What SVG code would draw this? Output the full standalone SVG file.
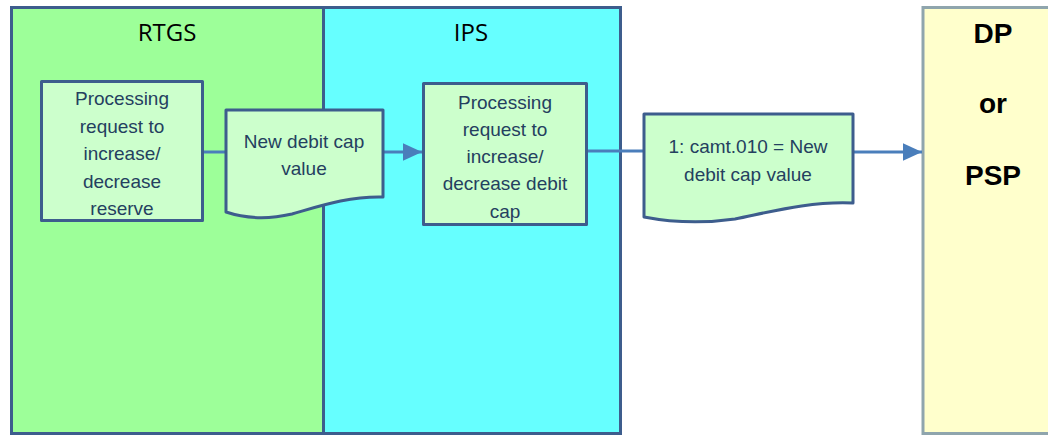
<svg xmlns="http://www.w3.org/2000/svg" width="1048" height="435" viewBox="0 0 1048 435">
<defs>
<style>
.lane{stroke:#3d5d8d;stroke-width:3}
.box{fill:#ccffcc;stroke:#3d5d8d;stroke-width:3;stroke-linejoin:round}
.t{font-family:"Liberation Sans",Arial,sans-serif;font-size:19px;fill:#24405f;text-anchor:middle}
.h{font-family:"Open Sans","Liberation Sans",sans-serif;font-size:24px;fill:#000;text-anchor:middle}
.hb{font-family:"Liberation Sans",Arial,sans-serif;font-size:28px;font-weight:bold;fill:#000;text-anchor:middle}
.c{stroke:#4a7ebb;stroke-width:3;fill:none}
</style>
<marker id="ar" markerWidth="7" markerHeight="7" refX="6.5" refY="3.5" orient="auto" markerUnits="strokeWidth">
<path d="M0,0.5 L6.5,3.5 L0,6.5 Z" fill="#4a7ebb"/>
</marker>
</defs>
<rect width="1048" height="435" fill="#fff"/>
<g id="lane-rtgs">
<rect class="lane" x="11.5" y="7.5" width="312" height="426" fill="#9dff99"/>
<text class="h" x="167" y="41">RTGS</text>
</g>
<g id="lane-ips">
<rect class="lane" x="323.5" y="7.5" width="297" height="426" fill="#66ffff"/>
<text class="h" x="471" y="41">IPS</text>
</g>
<g id="lane-dp">
<rect x="923" y="7.5" width="130" height="426" fill="#ffffcc" stroke="#8fa5ad" stroke-width="3"/>
<text class="hb" x="993" y="43">DP</text>
<text class="hb" x="993" y="113">or</text>
<text class="hb" x="993" y="185">PSP</text>
</g>
<g id="connectors">
<line class="c" x1="203" y1="152" x2="226" y2="152"/>
<line class="c" x1="383" y1="152" x2="422" y2="152" marker-end="url(#ar)"/>
<line class="c" x1="587" y1="151" x2="644" y2="151"/>
<line class="c" x1="853" y1="152" x2="922" y2="152" marker-end="url(#ar)"/>
</g>
<g id="proc-rtgs">
<rect class="box" x="41.5" y="81.5" width="161" height="139"/>
<text class="t" x="122" y="105">Processing</text>
<text class="t" x="122" y="133">request to</text>
<text class="t" x="122" y="160">increase/</text>
<text class="t" x="122" y="188">decrease</text>
<text class="t" x="122" y="215">reserve</text>
</g>
<g id="doc-newcap">
<path class="box" d="M226,110 H383 V197 C350,196 320,206 292,214 C266,220 244,218 226,212 Z"/>
<text class="t" x="304" y="148">New debit cap</text>
<text class="t" x="304" y="175">value</text>
</g>
<g id="proc-ips">
<rect class="box" x="423.5" y="83.5" width="163" height="141"/>
<text class="t" x="505" y="109">Processing</text>
<text class="t" x="505" y="136">request to</text>
<text class="t" x="505" y="163">increase/</text>
<text class="t" x="505" y="190">decrease debit</text>
<text class="t" x="505" y="218">cap</text>
</g>
<g id="doc-camt010">
<path class="box" d="M644,114 H853 V203 C810,201 770,212 735,219 C700,224 670,222 644,217 Z"/>
<text class="t" x="748" y="153">1: camt.010 = New</text>
<text class="t" x="748" y="181">debit cap value</text>
</g>
</svg>
